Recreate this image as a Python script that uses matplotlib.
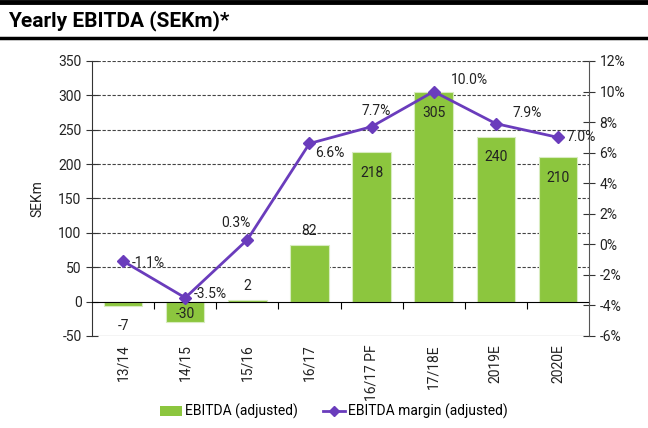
import matplotlib
matplotlib.use("Agg")
import matplotlib.pyplot as plt
from matplotlib.lines import Line2D
from matplotlib.patches import Patch
import numpy as np

periods = ["13/14", "14/15", "15/16", "16/17", "16/17 PF", "17/18E", "2019E", "2020E"]
ebitda = [-7, -30, 2, 82, 218, 305, 240, 210]
margin = [-1.1, -3.5, 0.3, 6.6, 7.7, 10.0, 7.9, 7.0]

left_ticks = [-50, 0, 50, 100, 150, 200, 250, 300, 350]
right_ticks = [-6, -4, -2, 0, 2, 4, 6, 8, 10, 12]

GREEN = "#8cc63e"
PURPLE = "#6a3cbc"
TEXT = "#222222"

plt.rcParams["font.family"] = ["Roboto", "DejaVu Sans"]

fig = plt.figure(figsize=(6.48, 4.28), dpi=100)
ax = fig.add_axes([0.142, 0.215, 0.767, 0.6425])
ax2 = ax.twinx()

x = np.arange(len(periods))
ax.bar(x, ebitda, width=0.62, color=GREEN, edgecolor="#d8ecc0", linewidth=0.8, zorder=2)

ax.set_xlim(-0.5, len(periods) - 0.5)
ax.set_ylim(-50, 350)
ax.set_yticks(left_ticks)
ax.set_yticklabels([str(v) for v in left_ticks], fontsize=10, color=TEXT)
ax.set_ylabel("SEKm", fontsize=10, color=TEXT, labelpad=10)
for v in left_ticks:
    if v not in (0, -50):
        ax.axhline(v, color="#444444", lw=0.8, ls=(0, (3, 1.5)), zorder=1)
ax.axhline(-50, color="#444444", lw=0.8, zorder=1)

ax.spines["top"].set_visible(False)
ax.spines["right"].set_visible(False)
ax.spines["bottom"].set_position(("data", 0))
ax.spines["bottom"].set_color("black")
ax.spines["left"].set_color("#333333")
ax.tick_params(axis="y", direction="inout", length=8, width=0.8, colors="#333333", labelcolor=TEXT)
ax.set_xticks(np.arange(0.5, len(periods) - 0.5), labels=[])
ax.tick_params(axis="x", direction="out", length=5, width=0.8, colors="black")

# category labels sit under the plot, not at the zero line
for i, name in enumerate(periods):
    ax.text(i, -0.03, name, transform=ax.get_xaxis_transform(), rotation=90,
            ha="center", va="top", fontsize=10, color=TEXT)

ax2.plot(x, margin, color=PURPLE, lw=2, marker="D", markersize=6, zorder=3)
ax2.set_ylim(-6, 12)
ax2.set_yticks(right_ticks)
ax2.set_yticklabels([f"{v}%" for v in right_ticks], fontsize=10, color=TEXT)
ax2.tick_params(axis="y", direction="inout", length=8, width=0.8, colors="#333333", labelcolor=TEXT)
for s in ("top", "left", "bottom"):
    ax2.spines[s].set_visible(False)
ax2.spines["right"].set_color("#555555")

# bar value labels
bar_offsets = [(0, -14), (0, 6), (0, 10), (0, 10), (0, -15), (0, -15), (0, -15), (0, -15)]
for i, (val, off) in enumerate(zip(ebitda, bar_offsets)):
    ax.annotate(str(val), (i, val), xytext=off, textcoords="offset points",
                ha="center", va="center", fontsize=10, color=TEXT, zorder=4)

# margin labels
margin_offsets = [(6, -1), (6, 3), (-8, 12), (4, -7), (3, 11), (12, 8), (12, 8), (6, 0)]
margin_ha = ["left", "left", "center", "left", "center", "left", "left", "left"]
for i, (val, off, ha) in enumerate(zip(margin, margin_offsets, margin_ha)):
    ax2.annotate(f"{val:.1f}%", (i, val), xytext=off, textcoords="offset points",
                 ha=ha, va="center", fontsize=10, color=TEXT, zorder=4)

# header with rules above and below
fig.add_artist(Line2D([0, 1], [0.995, 0.995], transform=fig.transFigure, color="black", lw=3.5))
fig.add_artist(Line2D([0, 1], [0.911, 0.911], transform=fig.transFigure, color="black", lw=2.5))
fig.text(0.012, 0.952, "Yearly EBITDA (SEKm)*", fontsize=15, fontweight="bold",
         ha="left", va="center", color="black")

handles = [
    Patch(facecolor=GREEN, edgecolor="none"),
    Line2D([], [], color=PURPLE, lw=2, marker="D", markersize=5),
]
fig.legend(handles, ["EBITDA (adjusted)", "EBITDA margin (adjusted)"], loc="center",
           bbox_to_anchor=(0.515, 0.038), ncol=2, frameon=False, fontsize=10,
           handlelength=1.6, handletextpad=0.2, columnspacing=1.8)

fig.savefig("out.png", dpi=100)
